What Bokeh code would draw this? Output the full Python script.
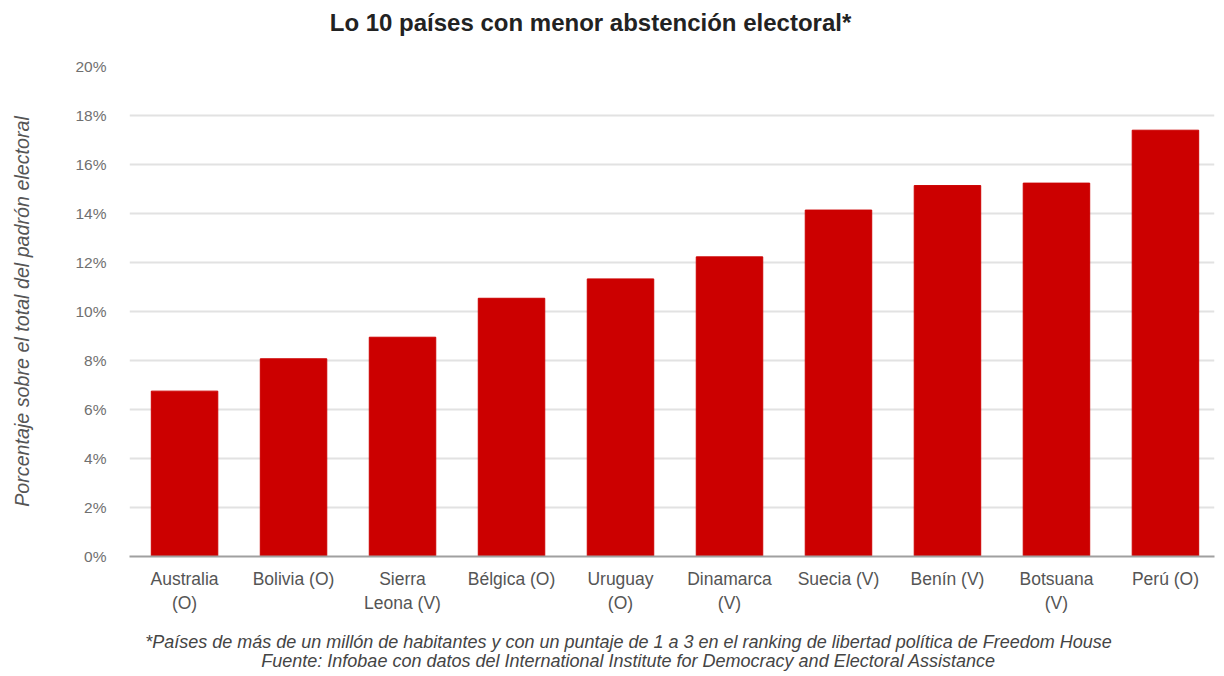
from bokeh.plotting import figure
from bokeh.layouts import column
from bokeh.models import Range1d, FixedTicker, Label
from bokeh.embed import file_html
from bokeh.resources import INLINE

# ---- data ----
countries = ["Australia\n(O)", "Bolivia (O)", "Sierra\nLeona (V)", "Bélgica (O)", "Uruguay\n(O)",
             "Dinamarca\n(V)", "Suecia (V)", "Benín (V)", "Botsuana\n(V)", "Perú (O)"]
abstention = [6.75, 8.07, 8.95, 10.54, 11.33, 12.23, 14.14, 15.14, 15.24, 17.40]
y_ticks = [0, 2, 4, 6, 8, 10, 12, 14, 16, 18, 20]
y_tick_labels = [f"{t}%" for t in y_ticks]
title_text = "Lo 10 países con menor abstención electoral*"
y_label = "Porcentaje sobre el total del padrón electoral"
note_text = "*Países de más de un millón de habitantes y con un puntaje de 1 a 3 en el ranking de libertad política de Freedom House"
source_text = "Fuente: Infobae con datos del International Institute for Democracy and Electoral Assistance"

FONT = "Liberation Sans"
W = 1216
LEFT = 129
xs = list(range(len(countries)))


def strip(height):
    f = figure(width=W, height=height, output_backend="svg", toolbar_location=None,
               x_range=Range1d(0, 1), y_range=Range1d(0, 1),
               x_axis_type=None, y_axis_type=None,
               min_border_left=0, min_border_right=0, min_border_top=0, min_border_bottom=0)
    f.outline_line_color = None
    f.grid.visible = False
    return f


# ---- title strip ----
top = strip(44)
top.add_layout(Label(x=461, y=22, x_units="screen", y_units="screen", text=title_text,
                     text_font=FONT, text_font_size="24px", text_font_style="bold",
                     text_color="#222222", text_align="center", text_baseline="middle"))

# ---- main chart ----
p = figure(width=W, height=576, output_backend="svg", toolbar_location=None,
           x_range=Range1d(-0.505, 9.45), y_range=Range1d(0, 20),
           min_border_left=LEFT, min_border_right=2, min_border_top=22, min_border_bottom=64)
p.outline_line_color = None

p.vbar(x=xs, top=abstention, width=0.61, color="#cc0000")

xa = p.xaxis[0]
xa.ticker = FixedTicker(ticks=xs)
xa.major_label_overrides = {i: c for i, c in zip(xs, countries)}
xa.axis_line_color = "#a0a0a0"
xa.axis_line_width = 2
xa.major_tick_line_color = None
xa.minor_tick_line_color = None
xa.major_label_text_font = FONT
xa.major_label_text_font_size = "17.5px"
xa.major_label_text_color = "#555555"
xa.major_label_text_line_height = 1.2
xa.major_label_standoff = 6

ya = p.yaxis[0]
ya.ticker = FixedTicker(ticks=y_ticks)
ya.major_label_overrides = {t: l for t, l in zip(y_ticks, y_tick_labels)}
ya.axis_line_color = None
ya.major_tick_line_color = None
ya.minor_tick_line_color = None
ya.major_label_text_font = FONT
ya.major_label_text_font_size = "15.5px"
ya.major_label_text_color = "#707070"
ya.major_label_standoff = 17
ya.axis_label = y_label
ya.axis_label_text_font = FONT
ya.axis_label_text_font_size = "19.7px"
ya.axis_label_text_font_style = "italic"
ya.axis_label_text_color = "#555555"
ya.axis_label_standoff = 39

p.xgrid.grid_line_color = None
p.ygrid.grid_line_color = "#e2e2e2"
p.ygrid.grid_line_width = 2

# ---- footnote strip ----
bottom = strip(52)
bottom.add_layout(Label(x=499, y=31, x_units="screen", y_units="screen", text=note_text,
                        text_font=FONT, text_font_size="18px", text_font_style="italic",
                        text_color="#444444", text_align="center", text_baseline="middle"))
bottom.add_layout(Label(x=499, y=12, x_units="screen", y_units="screen", text=source_text,
                        text_font=FONT, text_font_size="18px", text_font_style="italic",
                        text_color="#444444", text_align="center", text_baseline="middle"))

layout = column(top, p, bottom, spacing=0)
open("out.html", "w").write(file_html(layout, INLINE))
